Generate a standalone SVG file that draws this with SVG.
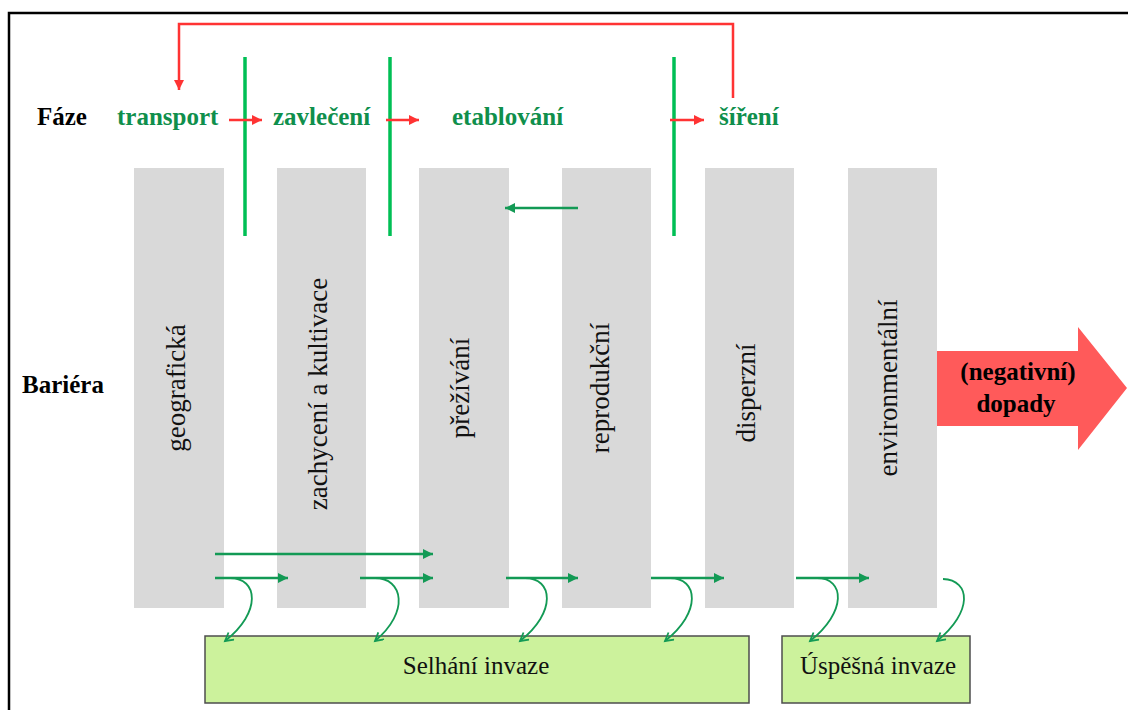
<svg xmlns="http://www.w3.org/2000/svg" width="1128" height="710" viewBox="0 0 1128 710">
  <style>
    text { font-family: "Liberation Serif", "Times New Roman", Times, "DejaVu Serif", serif; }
    .lbl { font-weight: bold; font-size: 25px; }
    .phase { fill: #0F8F4C; }
    .black { fill: #000; }
    .bar { fill: #D9D9D9; }
    .vtxt { font-size: 27px; fill: #111; text-anchor: middle; }
    .box { fill: #CCF29C; stroke: #4D4D4D; stroke-width: 1.5; }
    .btxt { font-size: 25px; fill: #111; text-anchor: middle; }
    .red { stroke: #FF3333; stroke-width: 2.5; fill: none; }
    .gline { stroke: #00BF55; stroke-width: 3.5; }
    .garr { stroke: #139A55; stroke-width: 2.5; fill: none; }
    .gcurve { stroke: #139A55; stroke-width: 1.8; fill: none; }
  </style>
  <defs>
    <marker id="redHead" markerUnits="userSpaceOnUse" markerWidth="12" markerHeight="12" refX="10" refY="5" orient="auto">
      <path d="M0,0 L10,5 L0,10 z" fill="#FF3333"/>
    </marker>
    <marker id="greenHead" markerUnits="userSpaceOnUse" markerWidth="12" markerHeight="12" refX="10" refY="5" orient="auto">
      <path d="M0,0 L10,5 L0,10 z" fill="#139A55"/>
    </marker>
    <marker id="greenOpen" markerUnits="userSpaceOnUse" markerWidth="12" markerHeight="12" refX="9" refY="5" orient="auto">
      <path d="M1,0.5 L9,5 L1,9.5" fill="none" stroke="#139A55" stroke-width="1.8"/>
    </marker>
  </defs>

  <rect x="0" y="0" width="1128" height="710" fill="#FFFFFF"/>
  <!-- frame (top and left edges visible) -->
  <rect x="9" y="13" width="1140" height="720" fill="none" stroke="#000" stroke-width="2.5"/>

  <!-- row labels -->
  <g id="label-faze"><text class="lbl black" x="37" y="125" font-family="Liberation Serif, serif">Fáze</text></g>
  <g id="label-bariera"><text class="lbl black" x="22" y="393">Bariéra</text></g>

  <!-- phases -->
  <g id="phase-transport"><text class="lbl phase" x="117" y="125">transport</text></g>
  <g id="phase-zavleceni"><text class="lbl phase" x="273" y="125">zavlečení</text></g>
  <g id="phase-etablovani"><text class="lbl phase" x="452" y="125">etablování</text></g>
  <g id="phase-sireni"><text class="lbl phase" x="719" y="125">šíření</text></g>

  <!-- barriers -->
  <g id="barrier-geograficka">
    <rect class="bar" x="134" y="168" width="90" height="440"/>
    <text class="vtxt" transform="translate(185,388) rotate(-90)">geografická</text>
  </g>
  <g id="barrier-zachyceni">
    <rect class="bar" x="277" y="168" width="89" height="440"/>
    <text class="vtxt" transform="translate(327,394) rotate(-90)">zachycení a kultivace</text>
  </g>
  <g id="barrier-prezivani">
    <rect class="bar" x="419" y="168" width="90" height="440"/>
    <text class="vtxt" transform="translate(469,388) rotate(-90)">přežívání</text>
  </g>
  <g id="barrier-reprodukcni">
    <rect class="bar" x="562" y="168" width="89" height="440"/>
    <text class="vtxt" transform="translate(609,388) rotate(-90)">reprodukční</text>
  </g>
  <g id="barrier-disperzni">
    <rect class="bar" x="705" y="168" width="89" height="440"/>
    <text class="vtxt" transform="translate(755,393) rotate(-90)">disperzní</text>
  </g>
  <g id="barrier-environmentalni">
    <rect class="bar" x="848" y="168" width="89" height="440"/>
    <text class="vtxt" transform="translate(897,388) rotate(-90)">environmentální</text>
  </g>

  <!-- impacts arrow -->
  <g id="impacts">
    <polygon points="937,351 1078,351 1078,327 1127,388 1078,450 1078,426 937,426" fill="#FF5A5A"/>
    <text class="lbl black" x="1018" y="380" text-anchor="middle">(negativní)</text>
    <text class="lbl black" x="1016" y="412" text-anchor="middle">dopady</text>
  </g>

  <!-- outcome boxes -->
  <g id="box-selhani">
    <rect class="box" x="205" y="636" width="544" height="67"/>
    <text class="btxt" x="476" y="674">Selhání invaze</text>
  </g>
  <g id="box-uspesna">
    <rect class="box" x="782" y="636" width="188" height="67"/>
    <text class="btxt" x="878" y="674">Úspěšná invaze</text>
  </g>

  <!-- connectors -->
  <g id="connectors">
    <line class="gline" x1="245" y1="57" x2="245" y2="236"/>
    <line class="gline" x1="390" y1="57" x2="390" y2="236"/>
    <line class="gline" x1="674" y1="57" x2="674" y2="236"/>

    <line class="red" x1="229" y1="120" x2="262" y2="120" marker-end="url(#redHead)"/>
    <line class="red" x1="386" y1="120" x2="419" y2="120" marker-end="url(#redHead)"/>
    <line class="red" x1="670" y1="120" x2="704" y2="120" marker-end="url(#redHead)"/>
    <path class="red" d="M733,98 L733,24 L179,24 L179,90" marker-end="url(#redHead)"/>

    <line class="garr" x1="578" y1="208" x2="505" y2="208" marker-end="url(#greenHead)"/>

    <line class="garr" x1="215" y1="554" x2="433" y2="554" marker-end="url(#greenHead)"/>
    <line class="garr" x1="215" y1="578" x2="288" y2="578" marker-end="url(#greenHead)"/>
    <line class="garr" x1="360" y1="578" x2="433" y2="578" marker-end="url(#greenHead)"/>
    <line class="garr" x1="506" y1="578" x2="578" y2="578" marker-end="url(#greenHead)"/>
    <line class="garr" x1="651" y1="578" x2="724" y2="578" marker-end="url(#greenHead)"/>
    <line class="garr" x1="796" y1="578" x2="869" y2="578" marker-end="url(#greenHead)"/>

    <path class="gcurve" d="M230,578 C258,578 262,612 225,641" marker-end="url(#greenOpen)"/>
    <path class="gcurve" d="M375,578 C403,578 410,612 375,641" marker-end="url(#greenOpen)"/>
    <path class="gcurve" d="M525,578 C553,578 557,612 520,641" marker-end="url(#greenOpen)"/>
    <path class="gcurve" d="M670,578 C698,578 702,612 665,641" marker-end="url(#greenOpen)"/>
    <path class="gcurve" d="M817,578 C845,578 847,612 810,641" marker-end="url(#greenOpen)"/>
    <path class="gcurve" d="M943,579 C971,580 973,612 937,641" marker-end="url(#greenOpen)"/>
  </g>
</svg>
